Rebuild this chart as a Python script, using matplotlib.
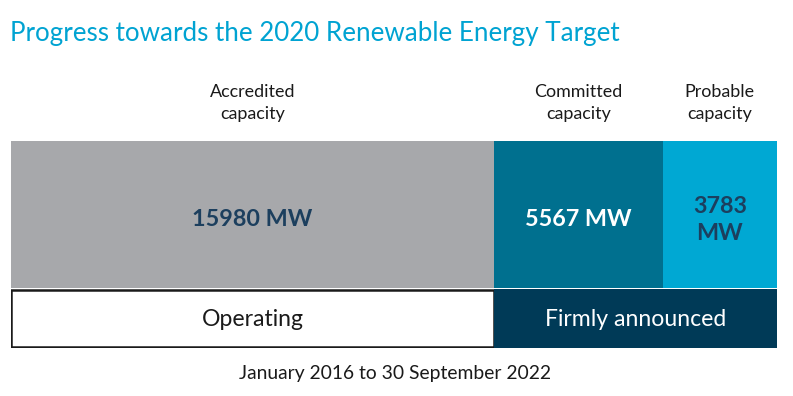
import matplotlib
matplotlib.use('Agg')
import matplotlib.pyplot as plt

plt.rcParams['font.family'] = ['Lato', 'DejaVu Sans']

# capacity towards the target (MW)
segments = ['Accredited\ncapacity', 'Committed\ncapacity', 'Probable\ncapacity']
capacity = [15980, 5567, 3783]
value_labels = ['15980 MW', '5567 MW', '3783\nMW']
status = ['Operating', 'Firmly announced']
status_span = [[0], [1, 2]]  # which segments each status covers

title = 'Progress towards the 2020 Renewable Energy Target'
caption = 'January 2016 to 30 September 2022'

seg_colors = ['#a7a8ab', '#00708f', '#00a8d3']
label_colors = ['#1c3f5e', 'white', '#1c3f5e']


def visualizer():
    W, H = 793, 396
    fig = plt.figure(figsize=(W / 100, H / 100), dpi=100)

    # axes covers the bar block: x 11..777 px, y 141..348 px
    ax = fig.add_axes([11 / W, 1 - 348 / H, 766 / W, 207 / H])
    total = sum(capacity)
    ax.set_xlim(0, total)
    ax.set_ylim(207, 0)
    ax.axis('off')

    lefts = [sum(capacity[:i]) for i in range(len(capacity))]
    ax.barh(73.5, capacity, left=lefts, height=147, color=seg_colors,
            edgecolor='none')

    for i, val in enumerate(capacity):
        cx = lefts[i] + val / 2
        ax.text(cx, 79, value_labels[i], ha='center', va='center',
                fontsize=16.8, fontweight='bold', color=label_colors[i],
                linespacing=1.35)
        ax.text(cx, -38, segments[i], ha='center', va='center',
                fontsize=12.9, color='#1a1a1a', linespacing=1.4,
                clip_on=False)

    # status row
    for j, name in enumerate(status):
        idx = status_span[j]
        start = lefts[idx[0]]
        width = sum(capacity[k] for k in idx)
        if j == 0:
            ax.barh(177.5, width, left=start, height=57, color='white',
                    edgecolor='#1a1a1a', linewidth=1.8)
            col = '#1a1a1a'
        else:
            ax.barh(177.5, width, left=start, height=59, color='#003a57',
                    edgecolor='none')
            col = 'white'
        ax.text(start + width / 2, 178, name, ha='center', va='center',
                fontsize=16.6, color=col)

    fig.text(10 / W, 1 - 33 / H, title, ha='left', va='center',
             fontsize=18.7, color='#00a3d2')
    fig.text(395 / W, 1 - 373 / H, caption, ha='center', va='center',
             fontsize=13.9, color='#1a1a1a')

    fig.savefig('out.png', dpi=100)


if __name__ == '__main__':
    visualizer()
